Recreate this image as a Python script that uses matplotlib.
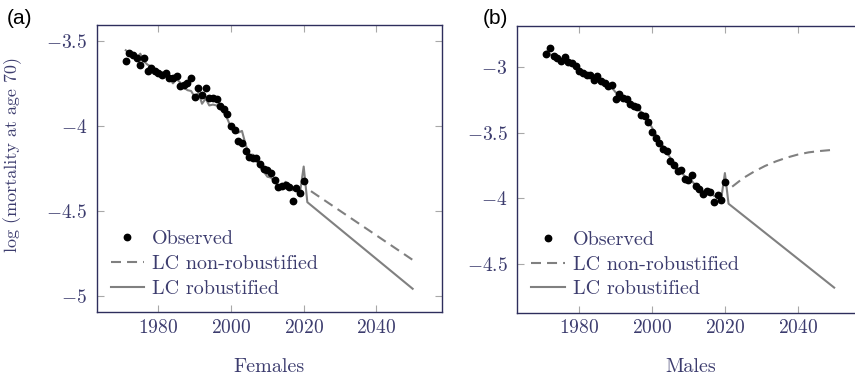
import numpy as np
import matplotlib
matplotlib.use("Agg")
import matplotlib.pyplot as plt
from matplotlib.ticker import FuncFormatter

# observed years
years = list(range(1971, 2021))

# Females: observed log mortality at age 70 and LC fitted values
fem_obs = [-3.616, -3.569, -3.582, -3.602, -3.641, -3.602, -3.675, -3.661, -3.675, -3.691,
           -3.700, -3.687, -3.716, -3.720, -3.706, -3.765, -3.759, -3.749, -3.720, -3.832,
           -3.779, -3.816, -3.780, -3.836, -3.837, -3.840, -3.883, -3.900, -3.932, -4.003,
           -4.026, -4.088, -4.099, -4.146, -4.184, -4.192, -4.191, -4.225, -4.253, -4.262,
           -4.280, -4.321, -4.363, -4.356, -4.346, -4.360, -4.441, -4.368, -4.396, -4.325]
fem_fit = [-3.555, -3.570, -3.590, -3.600, -3.575, -3.620, -3.640, -3.650, -3.665, -3.680,
           -3.685, -3.700, -3.720, -3.750, -3.725, -3.745, -3.775, -3.790, -3.795, -3.830,
           -3.805, -3.870, -3.840, -3.880, -3.875, -3.880, -3.900, -3.925, -3.960, -4.010,
           -4.040, -4.040, -4.030, -4.110, -4.170, -4.170, -4.200, -4.245, -4.270, -4.300,
           -4.305, -4.330, -4.355, -4.360, -4.330, -4.370, -4.380, -4.355, -4.390, -4.240]
fem_rob_years = [2021, 2050]
fem_rob = [-4.45, -4.96]
fem_nonrob_years = [2022, 2050]
fem_nonrob = [-4.385, -4.79]

# Males
male_obs = [-2.895, -2.852, -2.916, -2.928, -2.954, -2.920, -2.962, -2.966, -2.987, -3.030,
            -3.043, -3.056, -3.056, -3.099, -3.063, -3.107, -3.119, -3.140, -3.132, -3.244,
            -3.201, -3.234, -3.240, -3.277, -3.292, -3.302, -3.361, -3.374, -3.416, -3.492,
            -3.535, -3.575, -3.620, -3.637, -3.717, -3.743, -3.794, -3.781, -3.852, -3.857,
            -3.823, -3.905, -3.928, -3.964, -3.946, -3.954, -4.030, -3.972, -4.015, -3.875]
male_fit = [-2.880, -2.900, -2.915, -2.930, -2.940, -2.945, -2.960, -2.975, -2.990, -3.010,
            -3.030, -3.045, -3.060, -3.075, -3.080, -3.100, -3.120, -3.140, -3.155, -3.190,
            -3.205, -3.225, -3.250, -3.270, -3.290, -3.310, -3.340, -3.370, -3.410, -3.460,
            -3.510, -3.560, -3.600, -3.645, -3.690, -3.730, -3.770, -3.800, -3.830, -3.860,
            -3.870, -3.900, -3.920, -3.945, -3.950, -3.960, -3.980, -3.985, -4.000, -3.806]
male_rob_years = [2021, 2050]
male_rob = [-4.04, -4.68]
male_nonrob_years = [2022, 2025, 2028, 2031, 2034, 2037, 2040, 2043, 2046, 2050]
male_nonrob = [-3.910, -3.845, -3.795, -3.752, -3.717, -3.688, -3.665, -3.648, -3.638, -3.628]

xticks = [1980, 2000, 2020, 2040]

plt.rcParams['font.family'] = 'cmr10'
plt.rcParams['mathtext.fontset'] = 'cm'
plt.rcParams['axes.unicode_minus'] = False

TXT = '#3c3c6e'
SPINE = '#2e2e5c'
GRAY = '#808080'

fig = plt.figure(figsize=(8.55, 3.76), dpi=100)
ax1 = fig.add_axes([96.7 / 855, 64 / 376, 345 / 855, 287 / 376])
# right panel runs past the figure edge, as in the cropped original
ax2 = fig.add_axes([517.3 / 855, 63.5 / 376, 346 / 855, 287 / 376])


def draw(ax, obs, fit, rob_y, rob, nr_y, nr, ylim, yticks, xlabel):
    ax.plot(nr_y, nr, color=GRAY, lw=1.5, dashes=(4.8, 2.9), label='LC non-robustified', zorder=2)
    ax.plot(years + rob_y, fit + rob, color=GRAY, lw=1.5, label='LC robustified', zorder=2)
    ax.plot(years, obs, 'o', color='black', ms=4.6, label='Observed', zorder=3)
    ax.set_xlim(1963, 2058)
    ax.set_ylim(*ylim)
    ax.set_xticks(xticks)
    ax.set_yticks(yticks)
    fmt = FuncFormatter(lambda v, p: f"${v:g}$")
    ax.xaxis.set_major_formatter(fmt)
    ax.yaxis.set_major_formatter(fmt)
    ax.tick_params(direction='in', length=5, width=0.8, color='#a8a8a8',
                   top=True, right=True, labelsize=14, labelcolor=TXT)
    ax.tick_params(axis='y', pad=7)
    ax.tick_params(axis='x', pad=5)
    for s in ax.spines.values():
        s.set_color(SPINE)
        s.set_linewidth(1.0)
    ax.set_xlabel(xlabel, fontsize=14.5, color=TXT, labelpad=15)
    h, l = ax.get_legend_handles_labels()
    order = [2, 0, 1]
    ax.legend([h[i] for i in order], [l[i] for i in order], loc='lower left',
              fontsize=14.5, numpoints=1, handlelength=1.65, handletextpad=0.4,
              labelspacing=0.33, borderpad=0.3, borderaxespad=0.4,
              frameon=True, facecolor='white', edgecolor='none', framealpha=1,
              fancybox=False, labelcolor=TXT)


draw(ax1, fem_obs, fem_fit, fem_rob_years, fem_rob, fem_nonrob_years, fem_nonrob,
     (-5.097, -3.406), [-5, -4.5, -4, -3.5], 'Females')
draw(ax2, male_obs, male_fit, male_rob_years, male_rob, male_nonrob_years, male_nonrob,
     (-4.87, -2.68), [-4.5, -4, -3.5, -3], 'Males')

ax1.set_ylabel('log (mortality at age 70)', fontsize=13, color=TXT)
ax1.yaxis.set_label_coords(-0.2165, 0.55)

fig.text(7 / 855, 1 - 9 / 376, '(a)', family='Liberation Sans', fontsize=15, va='top', ha='left')
fig.text(483 / 855, 1 - 9 / 376, '(b)', family='Liberation Sans', fontsize=15, va='top', ha='left')

fig.savefig('out.png', dpi=100)
